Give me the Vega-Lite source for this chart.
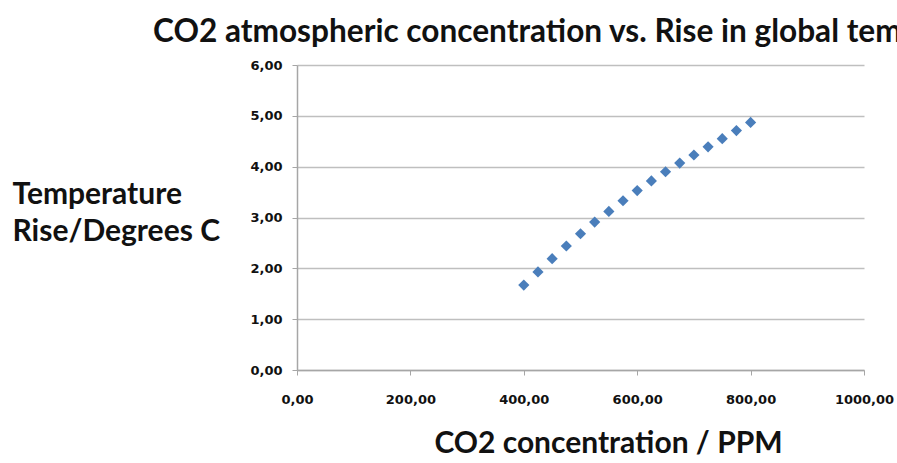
{
  "$schema": "https://vega.github.io/schema/vega-lite/v6.json",
  "autosize": {"type": "none"},
  "width": 567,
  "height": 305,
  "padding": {"left": 297, "top": 65, "right": 33, "bottom": 93},
  "background": "white",
  "title": {
    "text": "CO2 atmospheric concentration vs. Rise in global temperature",
    "anchor": "start",
    "frame": "group",
    "orient": "top",
    "dx": -144,
    "dy": 43,
    "offset": 28,
    "baseline": "alphabetic",
    "font": "Lato",
    "fontSize": 31.6,
    "fontWeight": "bold",
    "color": "#111111"
  },
  "data": {
    "values": [
      {"co2": 400, "temp": 1.67},
      {"co2": 425, "temp": 1.93},
      {"co2": 450, "temp": 2.19},
      {"co2": 475, "temp": 2.44},
      {"co2": 500, "temp": 2.68},
      {"co2": 525, "temp": 2.91},
      {"co2": 550, "temp": 3.12},
      {"co2": 575, "temp": 3.33},
      {"co2": 600, "temp": 3.53},
      {"co2": 625, "temp": 3.72},
      {"co2": 650, "temp": 3.90},
      {"co2": 675, "temp": 4.07},
      {"co2": 700, "temp": 4.23},
      {"co2": 725, "temp": 4.39},
      {"co2": 750, "temp": 4.55},
      {"co2": 775, "temp": 4.71},
      {"co2": 800, "temp": 4.87}
    ]
  },
  "mark": {"type": "point", "shape": "diamond", "filled": true, "size": 125, "color": "#4A7EBB", "opacity": 1},
  "encoding": {
    "x": {
      "field": "co2",
      "type": "quantitative",
      "scale": {"domain": [0, 1000], "nice": false, "zero": true},
      "axis": {
        "values": [0, 200, 400, 600, 800, 1000],
        "labelExpr": "replace(format(datum.value, '.2f'), '.', ',')",
        "grid": false,
        "domainColor": "#a6a6a6",
        "domainWidth": 1.5,
        "tickColor": "#a6a6a6",
        "tickSize": 5,
        "labelPadding": 18,
        "labelFont": "DejaVu Sans",
        "labelFontSize": 13,
        "labelFontWeight": "bold",
        "labelColor": "#111111",
        "labelFlush": false,
        "title": "CO2 concentration / PPM",
        "titleFont": "Lato",
        "titleFontSize": 30,
        "titleFontWeight": "bold",
        "titleColor": "#111111",
        "titleX": 311,
        "titleY": 82,
        "titleBaseline": "alphabetic",
        "titleAlign": "center"
      }
    },
    "y": {
      "field": "temp",
      "type": "quantitative",
      "scale": {"domain": [0, 6], "nice": false},
      "axis": {
        "values": [0, 1, 2, 3, 4, 5, 6],
        "labelExpr": "replace(format(datum.value, '.2f'), '.', ',')",
        "grid": true,
        "gridColor": "#bfbfbf",
        "gridWidth": 1.5,
        "domainColor": "#a6a6a6",
        "domainWidth": 1.5,
        "tickColor": "#a6a6a6",
        "tickSize": 5,
        "labelPadding": 10,
        "labelFont": "DejaVu Sans",
        "labelFontSize": 13,
        "labelFontWeight": "bold",
        "labelColor": "#111111",
        "title": ["Temperature", "Rise/Degrees C"],
        "titleAngle": 0,
        "titleFont": "Lato",
        "titleFontSize": 30,
        "titleFontWeight": "bold",
        "titleColor": "#111111",
        "titleX": -285,
        "titleY": 138,
        "titleAlign": "left",
        "titleBaseline": "alphabetic",
        "titleLineHeight": 37
      }
    }
  },
  "config": {"view": {"stroke": null}}
}
